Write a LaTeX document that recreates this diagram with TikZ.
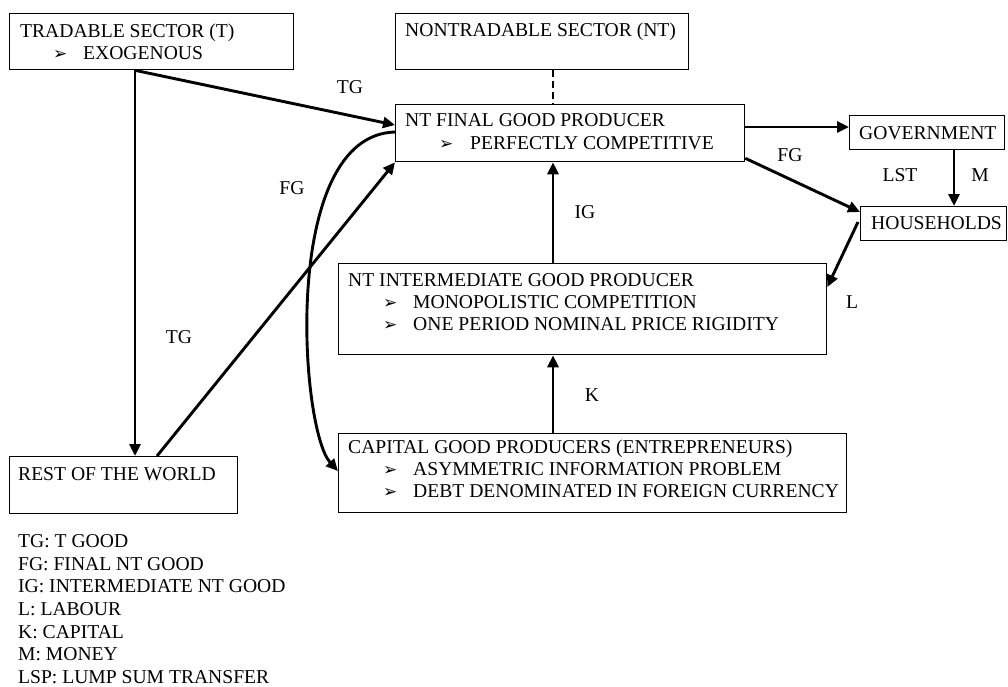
\documentclass[tikz,border=0pt]{standalone}
\usepackage{fontspec}
\setmainfont{Liberation Serif}
\newfontfamily\symfont{DejaVu Sans}
\usetikzlibrary{arrows.meta,calc}
\newcommand{\bul}{{\symfont\fontsize{17}{17}\selectfont ➢}}
\tikzset{
  box/.style={draw, line width=1.3pt, anchor=north west, inner sep=0pt},
  txt/.style={anchor=base west, inner sep=0pt, font=\fontsize{19.6}{22}\selectfont},
  lbl/.style={inner sep=0pt, font=\fontsize{19.6}{22}\selectfont},
  flow/.style={line width=2.9pt, -{Triangle[length=12pt,width=11pt]}},
}
\begin{document}
\begin{tikzpicture}[x=1pt,y=-1pt]
\useasboundingbox (0,0) rectangle (1008,686);
% boxes
\node[box, minimum width=284pt, minimum height=56pt] (T) at (9,13) {};
\node[box, minimum width=293pt, minimum height=56pt] (NTS) at (395,13) {};
\node[box, minimum width=349pt, minimum height=57pt] (NTF) at (395,104) {};
\node[box, minimum width=155pt, minimum height=34pt] (GOV) at (849,115) {};
\node[box, minimum width=146pt, minimum height=34pt] (HH) at (860,206) {};
\node[box, minimum width=488pt, minimum height=91pt] (INT) at (338,263) {};
\node[box, minimum width=508pt, minimum height=79pt] (CAP) at (338,433) {};
\node[box, minimum width=228pt, minimum height=57pt] (ROW) at (9,456) {};
% texts
\node[txt] (t1) at (20,37) {TRADABLE SECTOR (T)};
\node[txt] (t1b) at (53,59) {\bul};
\node[txt] (t2) at (83,59) {EXOGENOUS};
\node[txt] (n1) at (405,36) {NONTRADABLE SECTOR (NT)};
\node[txt] (f1) at (405,126) {NT FINAL GOOD PRODUCER};
\node[txt] (f1b) at (439,149) {\bul};
\node[txt] (f2) at (470,149) {PERFECTLY COMPETITIVE};
\node[txt] (g1) at (859,139) {GOVERNMENT};
\node[txt] (h1) at (871,229) {HOUSEHOLDS};
\node[txt] (i1) at (348,286) {NT INTERMEDIATE GOOD PRODUCER};
\node[txt] (i2b) at (383,308) {\bul};
\node[txt] (i2) at (413,308) {MONOPOLISTIC COMPETITION};
\node[txt] (i3b) at (383,330) {\bul};
\node[txt] (i3) at (413,330) {ONE PERIOD NOMINAL PRICE RIGIDITY};
\node[txt] (c1) at (348,453) {CAPITAL GOOD PRODUCERS (ENTREPRENEURS)};
\node[txt] (c2b) at (383,475) {\bul};
\node[txt] (c2) at (413,475) {ASYMMETRIC INFORMATION PROBLEM};
\node[txt] (c3b) at (383,497) {\bul};
\node[txt] (c3) at (413,497) {DEBT DENOMINATED IN FOREIGN CURRENCY};
\node[txt] (r1) at (18,480) {REST OF THE WORLD};
% legend
\node[txt] (lg1) at (18,547) {TG: T GOOD};
\node[txt] (lg2) at (18,570) {FG: FINAL NT GOOD};
\node[txt] (lg3) at (18,592) {IG: INTERMEDIATE NT GOOD};
\node[txt] (lg4) at (18,615) {L: LABOUR};
\node[txt] (lg5) at (18,638) {K: CAPITAL};
\node[txt] (lg6) at (18,660) {M: MONEY};
\node[txt] (lg7) at (18,683) {LSP: LUMP SUM TRANSFER};
% connectors
\draw[flow] ([xshift=126pt]T.south west) -- ([yshift=-21pt]NTF.north west);
\draw[flow] ([xshift=126pt]T.south west) -- ([xshift=126pt]ROW.north west);
\draw[flow] ([xshift=148pt]ROW.north west) -- (NTF.south west);
\draw[flow] ([yshift=-28pt]NTF.north west) .. controls (280,135) and (300,430) .. ([yshift=-38pt]CAP.north west);
\draw[line width=2.9pt, dash pattern=on 7pt off 4pt] ([xshift=158pt]NTS.south west) -- ([xshift=158pt]NTF.north west);
\draw[flow] ([yshift=-23pt]NTF.north east) -- ([yshift=-12pt]GOV.north west);
\draw[flow] ([yshift=4pt]NTF.south east) -- ([yshift=-6pt]HH.north west);
\draw[flow] ([xshift=105pt]GOV.south west) -- ([xshift=94pt]HH.north west);
\draw[flow] ([xshift=-2pt,yshift=-16pt]HH.north west) -- ([yshift=-24pt]INT.north east);
\draw[flow] ([xshift=215pt]INT.north west) -- ([xshift=158pt]NTF.south west);
\draw[flow] ([xshift=215pt]CAP.north west) -- ([xshift=215pt]INT.south west);
% labels
\node[lbl] (lTG1) at (350,87) {TG};
\node[lbl] (lFG1) at (292,188) {FG};
\node[lbl] (lTG2) at (179,337) {TG};
\node[lbl] (lIG) at (585,212) {IG};
\node[lbl] (lK) at (592,395) {K};
\node[lbl] (lFG2) at (790,155) {FG};
\node[lbl] (lLST) at (900,175) {LST};
\node[lbl] (lM) at (980,175) {M};
\node[lbl] (lL) at (852,302) {L};
\end{tikzpicture}
\end{document}
